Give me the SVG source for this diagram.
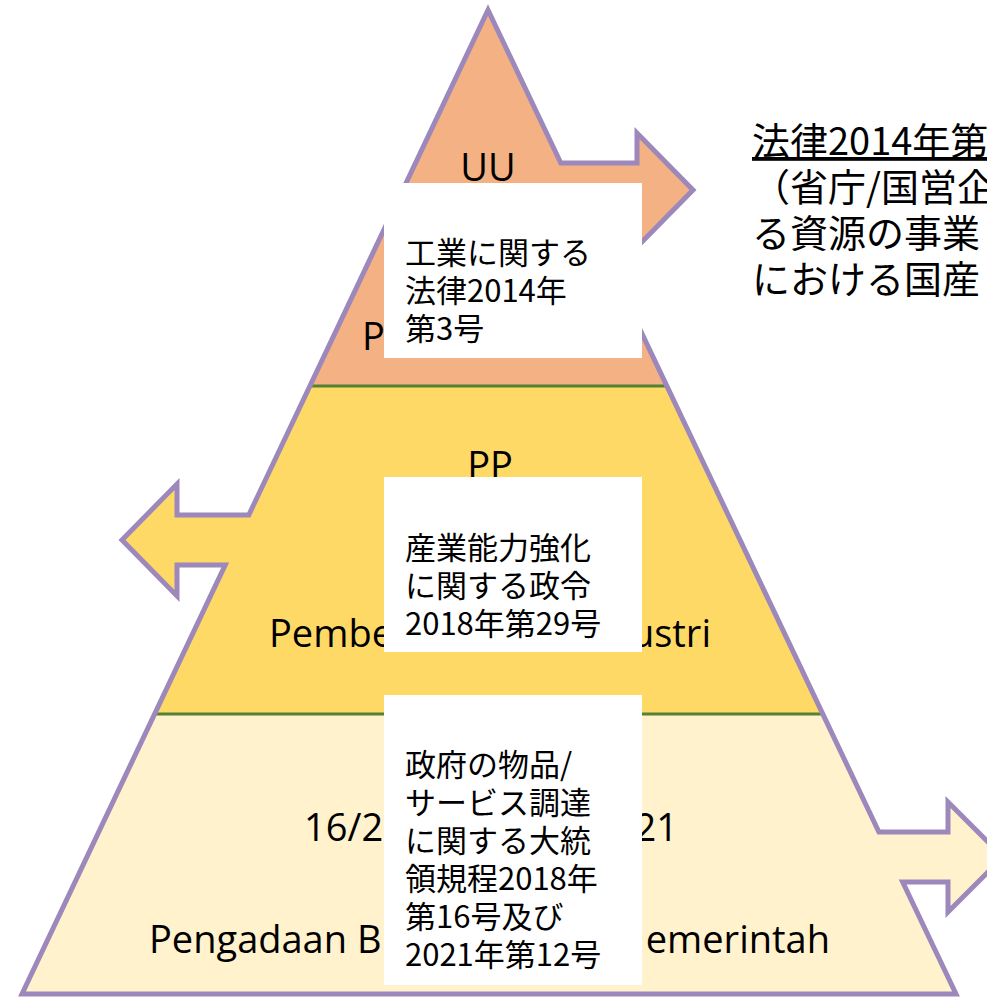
<svg xmlns="http://www.w3.org/2000/svg" width="987" height="999" viewBox="0 0 987 999">
<style>
.lab{font-family:"Open Sans","Noto Sans",sans-serif;font-size:38px;fill:#000}
.jp{font-family:"Noto Sans CJK JP",sans-serif;font-size:31px;fill:#000}
.note{font-family:"Noto Sans CJK JP",sans-serif;font-size:38px;fill:#000}
.sep{stroke:#548235;stroke-width:3;fill:none}
.box{fill:#FFFFFF;stroke:none}
</style>
<rect width="987" height="999" fill="#FFFFFF"/>
<g id="layer-uu">
<polygon fill="#F4B183" points="488,10 560.8,163 637,163 637,133 693,190 637,247 637,217 586.5,217 666.8,386 309.9,386"/>
</g>
<g id="layer-pp">
<polygon fill="#FFD966" points="309.9,386 666.8,386 822.8,714 154.6,714 225.2,565 177,565 177,596 122,540 177,484 177,515 248.8,515"/>
</g>
<g id="layer-perpres">
<polygon fill="#FFF2CC" points="154.6,714 822.8,714 878.9,832 948,832 948,802 1003,857 948,912 948,882 902.7,882 956,994 22,994"/>
</g>
<g id="separators">
<line class="sep" x1="309.9" y1="386" x2="666.8" y2="386"/>
<line class="sep" x1="154.6" y1="714" x2="822.8" y2="714"/>
</g>
<g id="connectors">
<path fill="none" stroke="#9C88BA" stroke-width="5" stroke-linejoin="miter" stroke-miterlimit="10" d="M488,10 L560.8,163 L637,163 L637,133 L693,190 L637,247 L637,217 L586.5,217 L878.9,832 L948,832 L948,802 L1003,857 L948,912 L948,882 L902.7,882 L956,994 L22,994 L225.2,565 L177,565 L177,596 L122,540 L177,484 L177,515 L248.8,515 Z"/>
</g>
<g id="labels">
<text class="lab" x="488" y="181" text-anchor="middle">UU</text>
<text class="lab" x="362" y="350">P</text>
<text class="lab" x="490" y="479" text-anchor="middle">PP</text>
<text class="lab" x="269" y="647">Pembe</text>
<text class="lab" x="711" y="647" text-anchor="end">ustri</text>
<text class="lab" x="304" y="841">16/2</text>
<text class="lab" x="678" y="841" text-anchor="end">21</text>
<text class="lab" x="149" y="953">Pengadaan B</text>
<text class="lab" x="830" y="953" text-anchor="end">emerintah</text>
</g>
<g id="box-uu">
<rect class="box" x="384" y="183" width="258" height="175"/>
<text class="jp" x="405" y="264">工業に関する</text>
<text class="jp" x="405" y="302">法律2014年</text>
<text class="jp" x="405" y="340">第3号</text>
</g>
<g id="box-pp">
<rect class="box" x="384" y="477" width="258" height="175"/>
<text class="jp" x="405" y="559">産業能力強化</text>
<text class="jp" x="405" y="597">に関する政令</text>
<text class="jp" x="405" y="635">2018年第29号</text>
</g>
<g id="box-perpres">
<rect class="box" x="384" y="695" width="258" height="290"/>
<text class="jp" x="405" y="776">政府の物品/</text>
<text class="jp" x="405" y="814">サービス調達</text>
<text class="jp" x="405" y="852">に関する大統</text>
<text class="jp" x="405" y="890">領規程2018年</text>
<text class="jp" x="405" y="928">第16号及び</text>
<text class="jp" x="405" y="966">2021年第12号</text>
</g>
<g id="note-uu">
<text class="note" x="752" y="155" text-decoration="underline">法律2014年第</text>
<text class="note" x="752" y="201">（省庁/国営企</text>
<text class="note" x="752" y="247">る資源の事業</text>
<text class="note" x="752" y="293">における国産</text>
</g>
</svg>
